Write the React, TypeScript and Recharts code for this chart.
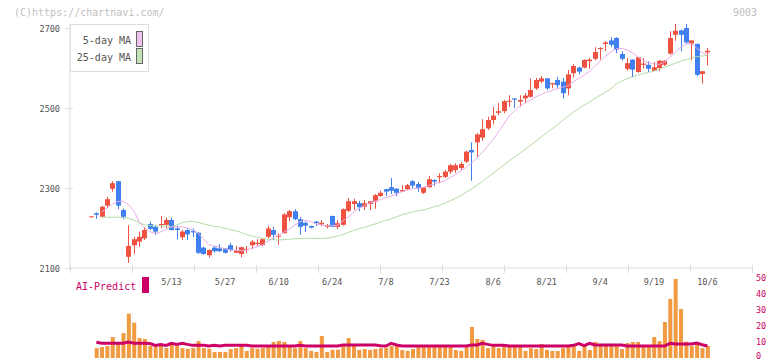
import React from "react";
import { ComposedChart, Bar, Line, XAxis, YAxis } from "recharts";

// daily candles, index 0 .. 115 (trading days)
const opens = [
  2229, 2237, 2228, 2256, 2298, 2317, 2245, 2128, 2157, 2166,
  2174, 2210, 2203, 2208, 2208, 2220, 2199, 2177, 2195, 2193,
  2188, 2151, 2132, 2151, 2149, 2149, 2157, 2138, 2135, 2146,
  2157, 2160, 2157, 2178, 2195, 2178, 2187, 2227, 2242, 2222,
  2213, 2205, 2216, 2209, 2203, 2230, 2203, 2208, 2243, 2260,
  2262, 2253, 2260, 2266, 2280, 2297, 2302, 2298, 2291, 2297,
  2317, 2310, 2288, 2302, 2320, 2327, 2328, 2341, 2345, 2350,
  2366, 2395, 2414, 2426, 2449, 2470, 2488, 2492, 2516, 2524,
  2516, 2524, 2528, 2549, 2566, 2574, 2559, 2570, 2566, 2549,
  2587, 2601, 2601, 2617, 2623, 2648, 2660, 2669, 2675, 2635,
  2598, 2621, 2590, 2608, 2608, 2593, 2600, 2608, 2636, 2683,
  2694, 2700, 2661, 2660, 2585, 2639,
];
const highs = [
  2230, 2239, 2256, 2278, 2317, 2318, 2249, 2207, 2178, 2191,
  2203, 2216, 2208, 2230, 2226, 2226, 2206, 2196, 2199, 2199,
  2190, 2153, 2147, 2155, 2160, 2150, 2163, 2155, 2153, 2155,
  2170, 2172, 2174, 2205, 2203, 2187, 2237, 2245, 2247, 2227,
  2216, 2206, 2217, 2220, 2210, 2231, 2220, 2249, 2275, 2273,
  2268, 2270, 2267, 2285, 2293, 2298, 2325, 2300, 2307, 2310,
  2320, 2315, 2302, 2330, 2322, 2337, 2345, 2360, 2362, 2365,
  2393, 2414, 2437, 2472, 2478, 2503, 2512, 2520, 2532, 2525,
  2532, 2537, 2574, 2575, 2580, 2575, 2563, 2578, 2575, 2595,
  2610, 2603, 2622, 2625, 2652, 2652, 2667, 2677, 2677, 2642,
  2625, 2622, 2628, 2625, 2617, 2615, 2620, 2620, 2692, 2710,
  2696, 2710, 2669, 2662, 2592, 2650,
];
const lows = [
  2228, 2223, 2226, 2250, 2291, 2247, 2222, 2113, 2135, 2153,
  2170, 2195, 2183, 2199, 2199, 2194, 2172, 2170, 2170, 2177,
  2135, 2133, 2126, 2138, 2140, 2136, 2141, 2137, 2127, 2138,
  2147, 2155, 2155, 2174, 2170, 2158, 2186, 2217, 2220, 2183,
  2190, 2199, 2205, 2205, 2199, 2203, 2197, 2206, 2240, 2245,
  2242, 2245, 2245, 2248, 2278, 2280, 2285, 2280, 2290, 2295,
  2299, 2290, 2285, 2301, 2305, 2312, 2325, 2335, 2338, 2345,
  2362, 2318, 2378, 2418, 2445, 2459, 2482, 2487, 2503, 2500,
  2503, 2512, 2526, 2545, 2562, 2545, 2549, 2550, 2524, 2532,
  2577, 2584, 2599, 2598, 2619, 2621, 2642, 2652, 2637, 2619,
  2593, 2577, 2588, 2598, 2590, 2592, 2592, 2605, 2633, 2668,
  2642, 2660, 2619, 2579, 2561, 2606,
];
const closes = [
  2229, 2233, 2253, 2272, 2312, 2256, 2228, 2155, 2172, 2178,
  2195, 2198, 2191, 2210, 2220, 2195, 2195, 2191, 2184, 2189,
  2138, 2135, 2145, 2142, 2142, 2138, 2145, 2145, 2152, 2148,
  2166, 2163, 2172, 2199, 2183, 2181, 2234, 2242, 2222, 2203,
  2206, 2201, 2212, 2213, 2207, 2203, 2212, 2247, 2267, 2267,
  2252, 2262, 2267, 2282, 2288, 2291, 2293, 2288, 2295, 2307,
  2306, 2299, 2302, 2322, 2316, 2330, 2341, 2357, 2357, 2360,
  2391, 2389, 2434, 2447, 2470, 2481, 2492, 2517, 2518, 2521,
  2520, 2531, 2545, 2570, 2574, 2549, 2562, 2557, 2537, 2584,
  2605, 2591, 2620, 2621, 2640, 2650, 2664, 2658, 2646, 2623,
  2612, 2596, 2627, 2611, 2598, 2602, 2618, 2618, 2675, 2693,
  2683, 2664, 2669, 2583, 2592, 2643,
];

const ma5 = [
  null, null, 2240, 2250, 2260, 2266, 2267, 2258, 2243, 2215,
  2200, 2191, 2186, 2190, 2197, 2203, 2203, 2203, 2200, 2195,
  2187, 2172, 2158, 2155, 2152, 2148, 2145, 2144, 2143, 2145,
  2149, 2153, 2158, 2167, 2175, 2181, 2190, 2197, 2207, 2216,
  2219, 2216, 2210, 2207, 2205, 2206, 2207, 2218, 2228, 2240,
  2249, 2256, 2262, 2267, 2271, 2276, 2280, 2285, 2291, 2295,
  2298, 2300, 2301, 2306, 2310, 2314, 2318, 2326, 2334, 2343,
  2352, 2362, 2375, 2389, 2405, 2421, 2440, 2460, 2480, 2493,
  2505, 2513, 2520, 2528, 2534, 2540, 2544, 2548, 2552, 2556,
  2566, 2574, 2582, 2592, 2605, 2617, 2630, 2640, 2648, 2649,
  2645, 2638, 2628, 2618, 2613, 2610, 2609, 2615, 2627, 2640,
  2652, 2660, 2661, 2650, 2638, 2633,
];
const ma25 = [
  null, null, 2227, 2227, 2227, 2227, 2226, 2224, 2220, 2213,
  2208, 2206, 2205, 2205, 2204, 2203, 2208, 2213, 2216, 2216,
  2214, 2210, 2207, 2204, 2203, 2199, 2196, 2193, 2189, 2184,
  2180, 2177, 2174, 2172, 2171, 2170, 2171, 2172, 2173, 2174,
  2174, 2174, 2174, 2174, 2175, 2177, 2180, 2184, 2189, 2194,
  2198, 2202, 2206, 2210, 2215, 2219, 2223, 2228, 2233, 2237,
  2240, 2243, 2245, 2249, 2253, 2257, 2262, 2268, 2274, 2281,
  2290, 2298, 2307, 2316, 2327, 2337, 2347, 2357, 2368, 2378,
  2387, 2397, 2407, 2417, 2428, 2438, 2448, 2458, 2469, 2480,
  2490, 2499, 2507, 2515, 2524, 2532, 2540, 2548, 2560, 2567,
  2573, 2578, 2582, 2586, 2589, 2592, 2597, 2602, 2607, 2612,
  2617, 2621, 2625, 2628, 2630, 2632,
];

const volume = [
  null, 6.2, 6.9, 7.5, 13.1, 9.6, 15.6, 27.7, 22.1, 12.5,
  11.9, 7.5, 7.1, 7.5, 6.2, 8.1, 7.5, 6.2, 5.8, 6.2,
  10.6, 6.2, 5.8, 3.8, 3.8, 3.8, 5.6, 6.2, 7.5, 4.4,
  6.2, 5.8, 6.2, 7.7, 10, 10.6, 10, 7.5, 6.2, 10.6,
  6.2, 4.4, 3.8, 13.8, 3.8, 5.2, 5.2, 7.5, 12.5, 7.5,
  5, 5.6, 5, 5.6, 6.2, 6.5, 7.5, 7.5, 5, 4.4,
  5.6, 7.5, 7.5, 7.5, 7.5, 7.5, 7.5, 7.5, 5, 4.4,
  7.5, 19.4, 11.9, 11.3, 6.2, 7.5, 6.2, 7.5, 7.5, 7.5,
  7.5, 4.4, 6.2, 5.6, 8.8, 5, 4.4, 4.4, 6.2, 7.5,
  7.5, 4.4, 7.5, 5, 10, 7.5, 7.5, 7.5, 7.5, 5.6,
  9.4, 10, 10, 7.5, 7.5, 13.1, 10.6, 22.5, 36.9, 49.4,
  30.6, 10.2, 7.5, 8.8, 6.2, 7.5,
];
const aiPredict = [
  null, 9.8, 9.2, 9.2, 9.2, 9.2, 9.2, 10, 9.2, 9.2,
  9.2, 9, 7.9, 8.5, 7.9, 9.2, 8.5, 9.2, 8.5, 7.9,
  7.9, 7.9, 7.5, 7.9, 7.5, 7.9, 7.9, 7.9, 7.9, 7.9,
  7.5, 7.5, 7.5, 7.5, 7.5, 7.5, 7.5, 7.5, 7.5, 7.9,
  7.5, 7.5, 7.5, 7.5, 7.5, 7.5, 7.5, 8.1, 8.1, 8.1,
  8.1, 8.1, 8.1, 8.1, 7.7, 7.5, 9.2, 8.1, 7.5, 7.5,
  7.5, 7.5, 7.5, 7.5, 7.5, 7.5, 7.5, 7.5, 7.5, 7.5,
  7.5, 8.1, 8.1, 9.2, 8.5, 7.9, 7.9, 7.9, 7.5, 7.5,
  7.5, 7.5, 7.5, 7.5, 7.5, 7.5, 7.5, 7.5, 7.5, 7.5,
  7.9, 9, 7.7, 9.2, 8.1, 8.1, 8.1, 8.1, 8.1, 8.1,
  7.5, 7.5, 7.5, 7.5, 7.5, 7.5, 7.5, 7.5, 9.2, 8.75,
  8.75, 8.75, 8.75, 9.4, 8.3, 7.5,
];

const dateLabels = ["5/13", "5/27", "6/10", "6/24", "7/8", "7/23", "8/6", "8/21", "9/4", "9/19", "10/6"];
const dateIdx = [15, 25, 35, 45, 55, 65, 75, 85, 95, 105, 115];
const priceTicks = [2100, 2300, 2500, 2700];
const volTicks = [0, 10, 20, 30, 40, 50];

const X_MIN = -3.92;
const X_MAX = 123.3;

const RED = "#f05242";
const BLUE = "#3f7ff0";
const ORANGE = "#f29a42";
const CRIMSON = "#cc0066";
const PINK = "#e6aee8";
const GREEN = "#b4dca6";
const AXIS = "#dddddd";
const LABEL = "#555555";
const FONT = "'DejaVu Sans Mono', monospace";

const rows = opens.map((open, i) => ({
  i,
  open,
  high: highs[i],
  low: lows[i],
  close: closes[i],
  ma5: ma5[i],
  ma25: ma25[i],
  vol: volume[i],
  ai: aiPredict[i],
}));

function Candle(props: any) {
  const { x, y, width, height, payload } = props;
  if (x == null || !payload) return null;
  const { open, close, high, low } = payload;
  const top = Math.min(y, y + height);
  const h = Math.abs(height);
  const span = high - low;
  const toY = (p: number) => (span === 0 ? top : top + ((high - p) / span) * h);
  const color = close >= open ? RED : BLUE;
  const cx = Math.round(x + width / 2);
  const bTop = toY(Math.max(open, close));
  const bBot = toY(Math.min(open, close));
  return (
    <g>
      <line x1={cx + 0.5} x2={cx + 0.5} y1={top} y2={top + h} stroke={color} strokeWidth={1} />
      <rect x={cx - 2} y={bTop} width={5} height={Math.max(1, bBot - bTop)} fill={color} />
    </g>
  );
}

function DateTick(props: any) {
  const { x, payload } = props;
  const k = dateIdx.indexOf(payload.value);
  return (
    <text x={x} y={285} textAnchor="middle" fontSize={8.5} fontFamily={FONT} fill={LABEL}>
      {k >= 0 ? dateLabels[k] : ""}
    </text>
  );
}

function PriceTick(props: any) {
  const { y, payload } = props;
  const py = Math.round(y) + 0.5;
  return (
    <g>
      <line x1={65} x2={73} y1={py} y2={py} stroke={AXIS} />
      <text x={60} y={py + 3} textAnchor="end" fontSize={8.5} fontFamily={FONT} fill={LABEL}>
        {payload.value}
      </text>
    </g>
  );
}

function VolTick(props: any) {
  const { y, payload } = props;
  return (
    <text x={756} y={Math.min(y + 3, 359)} textAnchor="start" fontSize={8.5} fontFamily={FONT} fill={CRIMSON}>
      {payload.value}
    </text>
  );
}

export default function App() {
  const markXs = Array.from({ length: 12 }, (_, k) => 70 + k * 62);
  return (
    <div style={{ position: "absolute", left: 0, top: 0, width: 772, height: 361, background: "#fff" }}>
      <div style={{ position: "absolute", left: 0, top: 0 }}>
        <ComposedChart width={772} height={361} data={rows} margin={{ top: 24, right: 20, bottom: 63, left: 0 }}>
          <XAxis
            dataKey="i"
            type="number"
            domain={[X_MIN, X_MAX]}
            allowDataOverflow
            ticks={dateIdx}
            interval={0}
            height={30}
            tickLine={false}
            axisLine={{ stroke: AXIS }}
            tick={<DateTick />}
          />
          <YAxis
            type="number"
            domain={[2100, 2710]}
            allowDataOverflow
            ticks={priceTicks}
            interval={0}
            width={70}
            tickLine={false}
            axisLine={{ stroke: AXIS }}
            tick={<PriceTick />}
          />
          <Line dataKey="ma25" stroke={GREEN} strokeWidth={1} dot={false} isAnimationActive={false} />
          <Line dataKey="ma5" stroke={PINK} strokeWidth={1} dot={false} isAnimationActive={false} />
          <Bar
            dataKey={(d: any) => [d.low, d.high]}
            barSize={5}
            shape={<Candle />}
            isAnimationActive={false}
          />
        </ComposedChart>
      </div>
      <div style={{ position: "absolute", left: 0, top: 0 }}>
        <ComposedChart width={772} height={361} data={rows} margin={{ top: 278, right: 0, bottom: 3, left: 70 }}>
          <XAxis dataKey="i" type="number" domain={[X_MIN, X_MAX]} allowDataOverflow hide />
          <YAxis
            orientation="right"
            type="number"
            domain={[0, 50]}
            ticks={volTicks}
            interval={0}
            width={20}
            axisLine={false}
            tickLine={false}
            tick={<VolTick />}
          />
          <Bar dataKey="vol" fill={ORANGE} barSize={4} isAnimationActive={false} />
          <Line dataKey="ai" stroke={CRIMSON} strokeWidth={3} dot={false} isAnimationActive={false} />
        </ComposedChart>
      </div>
      <svg width={772} height={361} style={{ position: "absolute", left: 0, top: 0, pointerEvents: "none" }}>
        <text x={14} y={16} fontSize={10} fontFamily={FONT} fill="#c0c0c0">(C)https://chartnavi.com/</text>
        <text x={757} y={16} fontSize={10} fontFamily={FONT} fill="#c0c0c0" textAnchor="end">9003</text>
        {markXs.map((mx) => (
          <line key={mx} x1={mx + 0.5} x2={mx + 0.5} y1={265} y2={273} stroke={AXIS} />
        ))}
        <rect x={70.5} y={24.5} width={78} height={47} fill="#fff" stroke={AXIS} />
        <text x={131} y={44} fontSize={10} fontFamily={FONT} fill={LABEL} textAnchor="end">5-day MA</text>
        <text x={131} y={61} fontSize={10} fontFamily={FONT} fill={LABEL} textAnchor="end">25-day MA</text>
        <rect x={136.5} y={31.5} width={6} height={15} fill="#efc3ef" stroke="#666" />
        <rect x={136.5} y={48.5} width={6} height={15} fill="#c3e3b8" stroke="#666" />
        <text x={76} y={290} fontSize={10} fontFamily={FONT} fill={CRIMSON}>AI-Predict</text>
        <rect x={142} y={277} width={7} height={16} fill={CRIMSON} />
      </svg>
    </div>
  );
}
